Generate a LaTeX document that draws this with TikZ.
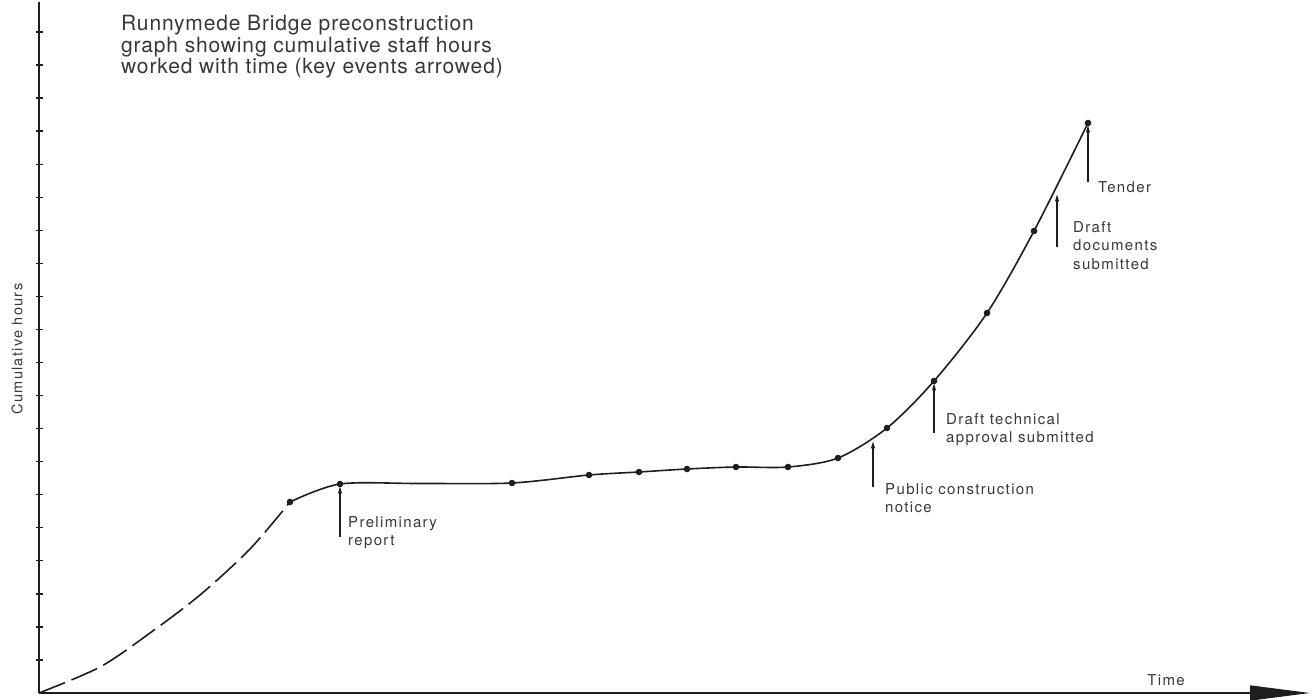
\documentclass[tikz,border=0pt]{standalone}
\usepackage{fontspec}
\setmainfont{TeX Gyre Heros}
\newfontfamily\labelfont[LetterSpace=9]{TeX Gyre Heros}
\newfontfamily\titlefont[LetterSpace=4]{TeX Gyre Heros}
\usepackage{tikz}
\usetikzlibrary{positioning, arrows.meta, calc}
\definecolor{inkgray}{RGB}{30, 30, 30}
\definecolor{textgray}{RGB}{55, 55, 55}

\begin{document}
\begin{tikzpicture}[x=1pt, y=1pt,
  axisline/.style={line width=1.5pt, draw=inkgray},
  hourcurve/.style={line width=1.6pt, draw=inkgray},
  eventarrow/.style={line width=1.1pt, draw=inkgray, -{Latex[length=8pt, width=4.5pt]}, shorten >=1.5pt},
  eventlabel/.style={anchor=north west, inner sep=0pt, align=left, text=textgray, font=\labelfont\fontsize{15}{18.5}\selectfont},
]
\useasboundingbox (0,0) rectangle (1314,699);

\coordinate (origin) at (39,6);
\coordinate (ytop) at (39,697);
\coordinate (xend) at (1310,6);
\draw[axisline] (origin) -- (ytop);
\draw[axisline, -{Triangle[length=60pt, width=15pt]}] (origin) -- (xend);
\foreach \k in {1,...,20}
  \draw[line width=1.3pt, inkgray] ($(origin)+(-3.5,33.05*\k)$) -- ++(7,0);

\coordinate (d1) at (290,197);
\coordinate (prelim) at (340,215);
\coordinate (d3) at (512,216);
\coordinate (d4) at (589,224);
\coordinate (d5) at (639,227);
\coordinate (d6) at (687,230);
\coordinate (d7) at (736,232);
\coordinate (d8) at (788,232);
\coordinate (d9) at (838,241);
\coordinate (d10) at (887,271);
\coordinate (drafttech) at (934,318);
\coordinate (d12) at (987,386);
\coordinate (d13) at (1034,468);
\coordinate (tender) at (1088,576);
\coordinate (pubnotice) at (873,260);
\coordinate (draftdocs) at (1057,507);

\draw[hourcurve, dash pattern=on 28pt off 7pt] plot[smooth] coordinates {(origin) (100,32) (150,66) (200,104) (250,150) (d1)};
\draw[hourcurve] plot[smooth] coordinates {(d1) (prelim) (420,215.5) (d3) (d4) (d5) (d6) (d7) (d8) (d9) (d10) (drafttech) (d12) (d13) (tender)};
\foreach \p in {d1, prelim, d3, d4, d5, d6, d7, d8, d9, d10, drafttech, d12, d13, tender}
  \fill[inkgray] (\p) circle (3.3pt);

\coordinate (prelimtail) at (340,162);
\coordinate (pubtail) at (873,212);
\coordinate (techtail) at (934,266);
\coordinate (docstail) at (1057,452);
\coordinate (tendertail) at (1088,517);
\draw[eventarrow] (prelimtail) -- (prelim);
\draw[eventarrow] (pubtail) -- (pubnotice);
\draw[eventarrow] (techtail) -- (drafttech);
\draw[eventarrow] (docstail) -- (draftdocs);
\draw[eventarrow] (tendertail) -- (tender);

\node[eventlabel] (prelimtxt) at (348,183) {Preliminary\\report};
\node[eventlabel] (pubtxt) at (885,216) {Public construction\\notice};
\node[eventlabel] (techtxt) at (946,286) {Draft technical\\approval submitted};
\node[eventlabel] (docstxt) at (1073,478) {Draft\\documents\\submitted};
\node[eventlabel] (tendertxt) at (1098,518) {Tender};

\node[anchor=north west, inner sep=0pt, align=left, text=textgray, font=\titlefont\fontsize{21}{21.5}\selectfont] (title) at (121,684) {Runnymede Bridge preconstruction\\graph showing cumulative staff hours\\worked with time (key events arrowed)};
\node[rotate=90, inner sep=0pt, text=textgray, font=\labelfont\fontsize{14.5}{16}\selectfont] (ylabel) at (17,350) {Cumulative hours};
\node[anchor=base, inner sep=0pt, text=textgray, font=\labelfont\fontsize{15}{18}\selectfont] (timelabel) at (1166,14) {Time};
\end{tikzpicture}
\end{document}
